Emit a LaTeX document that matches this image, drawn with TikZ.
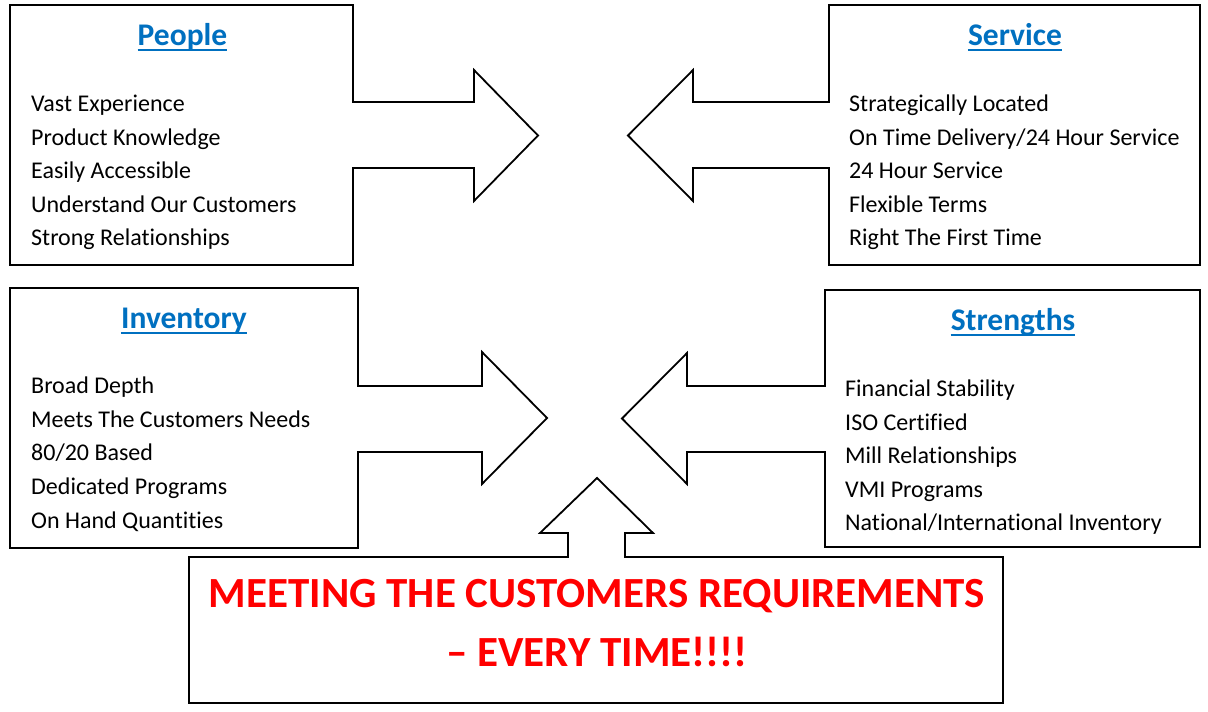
\documentclass[tikz,border=0pt]{standalone}
\usepackage{fontspec}
\setmainfont{Carlito}[Ligatures=NoCommon,RawFeature={-liga;-clig;-calt;-dlig}]
\definecolor{ttlblue}{RGB}{0,112,192}
\definecolor{redtxt}{RGB}{255,0,0}
\tikzset{
  shapeline/.style={draw=black, line width=1.8pt, fill=white, line join=miter},
  item/.style={anchor=base west, inner sep=0pt, font=\fontsize{24}{28}\selectfont},
  ttl/.style={anchor=base, inner sep=0pt, text=ttlblue, font=\fontsize{31.5}{34}\selectfont\bfseries},
  uline/.style={draw=ttlblue, line width=2pt},
  bigred/.style={anchor=base, inner sep=0pt, text=redtxt, font=\fontsize{43}{48}\selectfont\bfseries}
}
\begin{document}
\begin{tikzpicture}[x=1pt,y=-1pt]
\useasboundingbox[fill=white] (0,0) rectangle (1208,712);
% People
\draw[shapeline] (10,5) -- (353,5) -- (353,102) -- (474,102) -- (474,70) -- (538,135.5) -- (474,201) -- (474,168) -- (353,168) -- (353,265) -- (10,265) -- cycle;
% Service
\draw[shapeline] (1200,5) -- (829,5) -- (829,102) -- (693,102) -- (693,70) -- (628,135.5) -- (693,201) -- (693,168) -- (829,168) -- (829,265) -- (1200,265) -- cycle;
% Inventory
\draw[shapeline] (10,288) -- (358,288) -- (358,386) -- (482,386) -- (482,352) -- (547,418) -- (482,484) -- (482,452) -- (358,452) -- (358,548) -- (10,548) -- cycle;
% Strengths
\draw[shapeline] (1200,290) -- (825,290) -- (825,386) -- (687,386) -- (687,353) -- (622,418.5) -- (687,484) -- (687,452) -- (825,452) -- (825,547) -- (1200,547) -- cycle;
% Bottom
\draw[shapeline] (189,557) -- (568,557) -- (568,533) -- (540,533) -- (597,478) -- (653,533) -- (625,533) -- (625,557) -- (1003,557) -- (1003,703) -- (189,703) -- cycle;

% titles
\node[ttl] (tpeople) at (182.5,45) {People};
\draw[uline] ([yshift=-5pt]tpeople.base west) -- ([yshift=-5pt]tpeople.base east);
\node[ttl] (tservice) at (1015,45) {Service};
\draw[uline] ([yshift=-5pt]tservice.base west) -- ([yshift=-5pt]tservice.base east);
\node[ttl] (tinv) at (184,328) {Inventory};
\draw[uline] ([yshift=-5pt]tinv.base west) -- ([yshift=-5pt]tinv.base east);
\node[ttl] (tstr) at (1013,330) {Strengths};
\draw[uline] ([yshift=-5pt]tstr.base west) -- ([yshift=-5pt]tstr.base east);

% People items
\node[item] (p1) at (31,111) {Vast Experience};
\node[item] (p2) at (31,145) {Product Knowledge};
\node[item] (p3) at (31,178) {Easily Accessible};
\node[item] (p4) at (31,212) {Understand Our Customers};
\node[item] (p5) at (31,245) {Strong Relationships};
% Service items
\node[item] (s1) at (849,111) {Strategically Located};
\node[item] (s2) at (849,145) {On Time Delivery/24 Hour Service};
\node[item] (s3) at (849,178) {24 Hour Service};
\node[item] (s4) at (849,212) {Flexible Terms};
\node[item] (s5) at (849,245) {Right The First Time};
% Inventory items
\node[item] (i1) at (31,393) {Broad Depth};
\node[item] (i2) at (31,427) {Meets The Customers Needs};
\node[item] (i3) at (31,460) {80/20 Based};
\node[item] (i4) at (31,494) {Dedicated Programs};
\node[item] (i5) at (31,528) {On Hand Quantities};
% Strengths items
\node[item] (g1) at (845,396) {Financial Stability};
\node[item] (g2) at (845,430) {ISO Certified};
\node[item] (g3) at (845,463) {Mill Relationships};
\node[item] (g4) at (845,497) {VMI Programs};
\node[item] (g5) at (845,530) {National/International Inventory};

% bottom text
\node[bigred] (m1) at (597,607) {MEETING THE CUSTOMERS REQUIREMENTS};
\node[bigred] (m2) at (597,666) {– EVERY TIME!!!!};
\end{tikzpicture}
\end{document}
